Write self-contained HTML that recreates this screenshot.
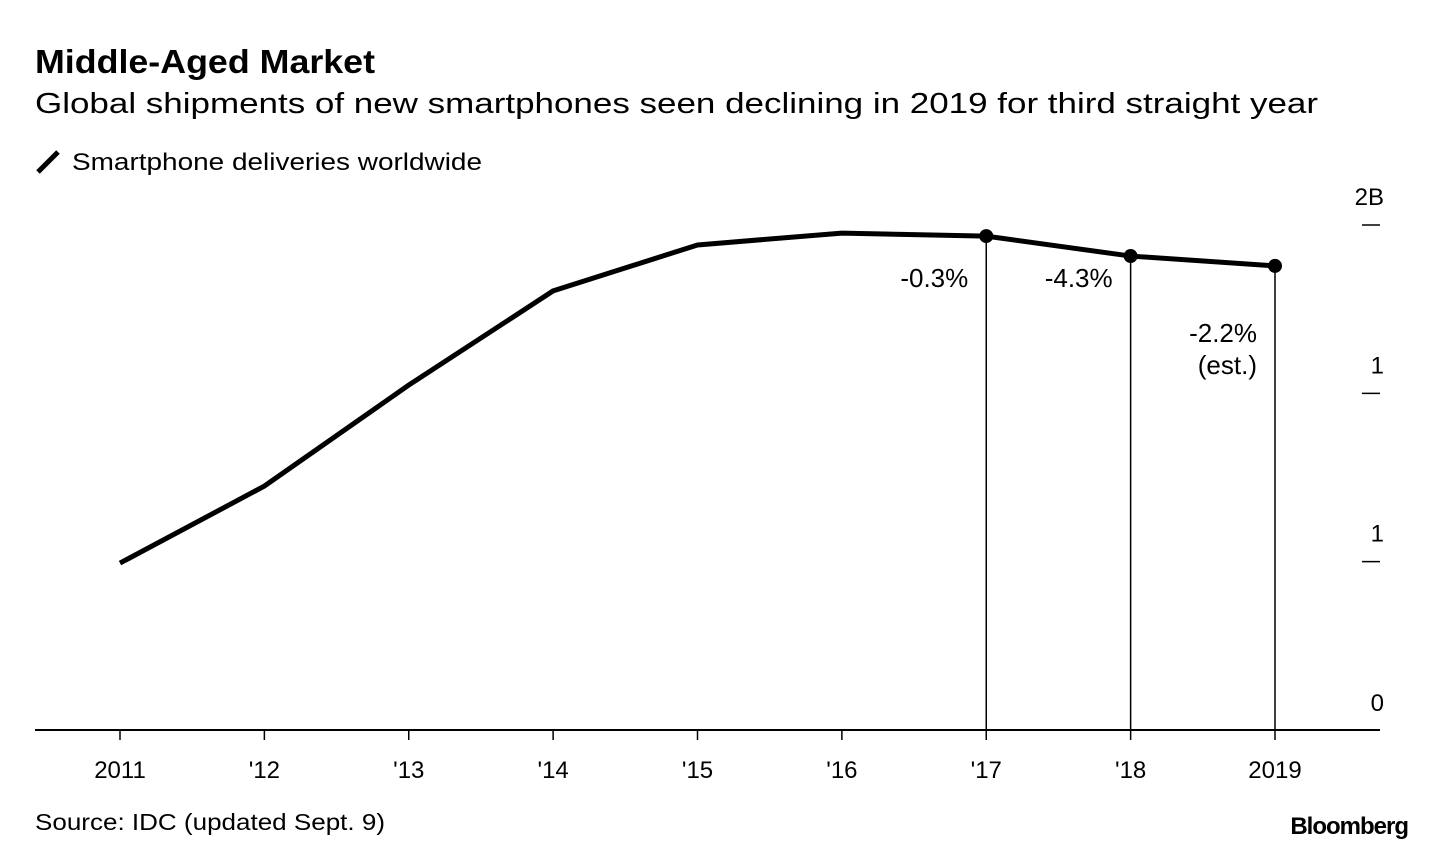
<!DOCTYPE html>
<html><head><meta charset="utf-8"><style>
body{margin:0;background:#fff;width:1436px;height:850px;overflow:hidden;font-family:"Liberation Sans",sans-serif;color:#000}
</style></head><body>
<svg width="1436" height="850" style="position:absolute;left:0;top:0">
<text x="35" y="73" font-size="33" font-weight="bold" textLength="340" lengthAdjust="spacingAndGlyphs">Middle-Aged Market</text>
<text x="35" y="113" font-size="29" textLength="1283" lengthAdjust="spacingAndGlyphs">Global shipments of new smartphones seen declining in 2019 for third straight year</text>
<line x1="38" y1="172" x2="58" y2="152" stroke="#000" stroke-width="5"/>
<text x="72" y="170" font-size="24" textLength="410" lengthAdjust="spacingAndGlyphs">Smartphone deliveries worldwide</text>
<g id="g"></g>
<text x="35" y="830" font-size="23" textLength="350" lengthAdjust="spacingAndGlyphs">Source: IDC (updated Sept. 9)</text>
<text x="1408" y="834" font-size="24" font-weight="bold" text-anchor="end" letter-spacing="-1">Bloomberg</text>
</svg>
<script>
const years=[2011,2012,2013,2014,2015,2016,2017,2018,2019];
const xLabels=["2011","'12","'13","'14","'15","'16","'17","'18","2019"];
const values=[0.661,0.966,1.366,1.739,1.921,1.968,1.956,1.877,1.838];
const yTicks=[0,0.667,1.333,2];
const yTickLabels=["0","1","1","2B"];
const markIdx=[6,7,8];
const markLabels=[["-0.3%"],["-4.3%"],["-2.2%","(est.)"]];
const NS="http://www.w3.org/2000/svg",g=document.getElementById('g');
const x=i=>120+(1275-120)*(i/(years.length-1));
const y=v=>730-v*252.5;
function mk(t,a){const e=document.createElementNS(NS,t);for(const k in a)e.setAttribute(k,a[k]);g.appendChild(e);return e;}
let ax=mk('line',{x1:35,y1:730,x2:1380,y2:730,stroke:'#000','stroke-width':2});


years.forEach((yr,i)=>{
 let tk=mk('line',{x1:x(i),y1:730,x2:x(i),y2:740,stroke:'#000','stroke-width':1.5});
 
 
 let t=mk('text',{x:x(i),y:778,'font-size':24,'text-anchor':'middle'});t.textContent=xLabels[i];
 
 
});
yTicks.forEach((v,i)=>{
 if(v>0){let l=mk('line',{x1:1362,y1:y(v),x2:1380,y2:y(v),stroke:'#000','stroke-width':1.5});
 
 }
 let t=mk('text',{x:1384,y:y(v)-20,'font-size':24,'text-anchor':'end'});t.textContent=yTickLabels[i];
 if(v==0)t.setAttribute('y',y(v)-19);
 
 
});
markIdx.forEach((idx,j)=>{
 let l=mk('line',{x1:x(idx),y1:y(values[idx]),x2:x(idx),y2:730,stroke:'#000','stroke-width':1.5});
 
 
});
let p=mk('polyline',{points:values.map((v,i)=>x(i)+','+y(v)).join(' '),fill:'none',stroke:'#000','stroke-width':5,'stroke-linejoin':'round'});


markIdx.forEach((idx,j)=>{
 let c=mk('circle',{cx:x(idx),cy:y(values[idx]),r:7,fill:'#000'});
 
 
 const lines=markLabels[j];const top=j==2?y(values[markIdx[0]])+106:y(values[markIdx[0]])+51;
 lines.forEach((s,k)=>{let t=mk('text',{x:x(idx)-18,y:top+k*32,'font-size':26,'text-anchor':'end'});t.textContent=s;
 
 });
});
</script>
</body></html>
